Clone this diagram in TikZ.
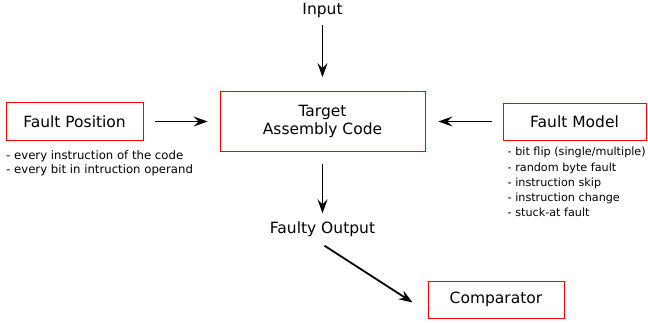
\documentclass[tikz,border=0pt]{standalone}
\usepackage{fontspec}
\setmainfont{DejaVu Sans}
\usetikzlibrary{arrows.meta}
\usetikzlibrary{positioning}

\tikzset{
	redbox/.style={draw=red, line width=0.8pt, font=\fontsize{15.5}{18.5}\selectfont, align=center, inner sep=0pt},
	plain/.style={font=\fontsize{15.5}{18.5}\selectfont, align=center, inner sep=0pt},
	notes/.style={font=\fontsize{11.7}{14.5}\selectfont, align=left, anchor=north west, inner sep=0pt},
	flow/.style={-{Stealth[length=14pt,width=10pt,inset=5pt]}, line width=1.8pt}
}

\begin{document}
\begin{tikzpicture}[x=1pt,y=-1pt]
		\useasboundingbox (0,0) rectangle (648,322);
		\node[plain] (input) at (322.5,10) {Input};
		\node[redbox, minimum width=205pt, minimum height=60pt] (target) at (322.5,121.5) {Target\\Assembly Code};
		\node[redbox, minimum width=137pt, minimum height=38pt] (pos) at (74.5,121.5) {Fault Position};
		\node[redbox, minimum width=143pt, minimum height=37pt] (model) at (574.5,121.5) {Fault Model};
		\node[plain] (out) at (322.5,229) {Faulty Output};
		\node[redbox, minimum width=136pt, minimum height=37pt] (comp) at (496,299.5) {Comparator};
		
		\node[notes] (posnotes) at (6,150) {- every instruction of the code\\- every bit in intruction operand};
		\node[notes, font=\fontsize{11.2}{15.3}\selectfont] (modelnotes) at (507.5,147) {- bit flip (single/multiple)\\- random byte fault\\- instruction skip\\- instruction change\\- stuck-at fault};
		
		\draw[flow] ([yshift=-8pt]input.south) to ([yshift=14pt]target.north);
		\draw[flow] ([xshift=12pt]pos.east) to ([xshift=-12pt]target.west);
		\draw[flow] ([xshift=-11pt]model.west) to ([xshift=13pt]target.east);
		\draw[flow] ([yshift=-12pt]target.south) to ([yshift=8pt]out.north);
		\draw[flow] ([xshift=2pt,yshift=-9pt]out.south) to ([xshift=-15pt,yshift=-3pt]comp.west);
		
		\end{tikzpicture}
\end{document}
